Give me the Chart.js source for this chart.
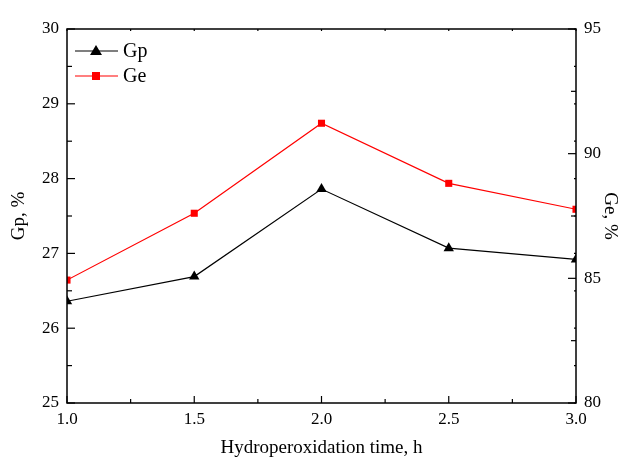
<!DOCTYPE html>
<html>
<head>
<meta charset="utf-8">
<script src="https://cdn.jsdelivr.net/npm/chart.js@4"></script>
<style>
  body { margin: 0; background: #fff; }
  #wrap { width: 625px; height: 457px; }
</style>
</head>
<body>
<div id="wrap"><canvas id="myChart"></canvas></div>
<script>
const times = [1.0, 1.5, 2.0, 2.5, 3.0];
const gpValues = [26.36, 26.69, 27.86, 27.07, 26.92];
const geValues = [84.93, 87.61, 91.22, 88.81, 87.77];
const xTicks = [1.0, 1.5, 2.0, 2.5, 3.0];
const gpTicks = [25, 26, 27, 28, 29, 30];
const geTicks = [80, 85, 90, 95];

const font = 'Liberation Serif';

// frame + inward ticks, the way Origin draws them
const frameTicks = {
    id: 'frameTicks',
    afterDraw(chart) {
        const { ctx, chartArea: a, scales } = chart;
        ctx.save();
        ctx.strokeStyle = '#000';
        ctx.lineWidth = 1.5;
        ctx.strokeRect(a.left, a.top, a.right - a.left, a.bottom - a.top);
        ctx.lineWidth = 1.2;
        const tick = (x1, y1, x2, y2) => { ctx.beginPath(); ctx.moveTo(x1, y1); ctx.lineTo(x2, y2); ctx.stroke(); };

        for (let v = 1; v <= 3.001; v += 0.25) {
            const px = scales.x.getPixelForValue(v);
            const major = Math.abs(v * 2 - Math.round(v * 2)) < 1e-6;
            tick(px, a.bottom, px, a.bottom - (major ? 7 : 4));
            tick(px, a.top, px, a.top + 2);
        }
        for (let v = 25; v <= 30.001; v += 0.5) {
            const py = scales.y.getPixelForValue(v);
            const major = Math.abs(v - Math.round(v)) < 1e-6;
            tick(a.left, py, a.left + (major ? 8 : 5), py);
            tick(a.right, py, a.right - 2, py);
        }
        for (let v = 80; v <= 95.001; v += 2.5) {
            const py = scales.y1.getPixelForValue(v);
            const major = v % 5 === 0;
            tick(a.right, py, a.right - (major ? 8 : 5), py);
        }
        ctx.restore();
    }
};

// legend in the top left corner of the plot
const cornerLegend = {
    id: 'cornerLegend',
    afterDraw(chart) {
        const { ctx } = chart;
        const rows = [51, 76];
        ctx.save();
        chart.data.datasets.forEach((ds, i) => {
            const y = rows[i];
            ctx.strokeStyle = ds.borderColor;
            ctx.lineWidth = 1.2;
            ctx.beginPath(); ctx.moveTo(75, y); ctx.lineTo(118, y); ctx.stroke();
            ctx.fillStyle = ds.pointBackgroundColor;
            if (ds.pointStyle === 'triangle') {
                ctx.beginPath(); ctx.moveTo(96, y - 6); ctx.lineTo(102, y + 4); ctx.lineTo(90, y + 4); ctx.closePath(); ctx.fill();
            } else {
                ctx.fillRect(92, y - 4, 8, 8);
            }
            ctx.fillStyle = '#000';
            ctx.font = '20px ' + font;
            ctx.textBaseline = 'middle';
            ctx.fillText(ds.label, 123, y + 1);
        });
        ctx.restore();
    }
};

const ctx = document.getElementById('myChart').getContext('2d');

new Chart(ctx, {
    type: 'line',
    data: {
        datasets: [{
            label: 'Gp',
            data: times.map((t, i) => ({ x: t, y: gpValues[i] })),
            yAxisID: 'y',
            borderColor: '#000',
            borderWidth: 1.2,
            pointStyle: 'triangle',
            pointRadius: 6,
            pointBackgroundColor: '#000',
            pointBorderWidth: 0,
            tension: 0
        }, {
            label: 'Ge',
            data: times.map((t, i) => ({ x: t, y: geValues[i] })),
            yAxisID: 'y1',
            borderColor: '#ff0000',
            borderWidth: 1.2,
            pointStyle: 'rect',
            pointRadius: 5,
            pointBackgroundColor: '#ff0000',
            pointBorderWidth: 0,
            tension: 0
        }]
    },
    options: {
        responsive: true,
        maintainAspectRatio: false,
        animation: false,
        layout: { padding: { top: 29, left: 0, right: 0, bottom: 0 } },
        plugins: {
            legend: { display: false },
            tooltip: { enabled: false }
        },
        scales: {
            x: {
                type: 'linear', min: 1, max: 3,
                afterBuildTicks: s => { s.ticks = xTicks.map(v => ({ value: v })); },
                grid: { display: false, drawTicks: false },
                border: { display: false },
                ticks: { color: '#000', font: { family: font, size: 17 }, padding: 6, maxRotation: 0, callback: v => v.toFixed(1) },
                title: { display: true, text: 'Hydroperoxidation time, h', color: '#000', font: { family: font, size: 19 }, padding: { top: 0, bottom: -2 } },
                afterFit: s => { s.height = 54; }
            },
            y: {
                position: 'left', min: 25, max: 30,
                afterBuildTicks: s => { s.ticks = gpTicks.map(v => ({ value: v })); },
                grid: { display: false, drawTicks: false },
                border: { display: false },
                ticks: { color: '#000', font: { family: font, size: 17 }, padding: 8 },
                title: { display: true, text: 'Gp, %', color: '#000', font: { family: font, size: 19 }, padding: { top: 8, bottom: 4 } },
                afterFit: s => { s.width = 67; }
            },
            y1: {
                position: 'right', min: 80, max: 95,
                afterBuildTicks: s => { s.ticks = geTicks.map(v => ({ value: v })); },
                grid: { display: false, drawTicks: false },
                border: { display: false },
                ticks: { color: '#000', font: { family: font, size: 17 }, padding: 8 },
                title: { display: true, text: 'Ge, %', color: '#000', font: { family: font, size: 19 }, padding: { top: 4, bottom: 4 } },
                afterFit: s => { s.width = 49; }
            }
        }
    },
    plugins: [frameTicks, cornerLegend]
});
</script>
</body>
</html>
